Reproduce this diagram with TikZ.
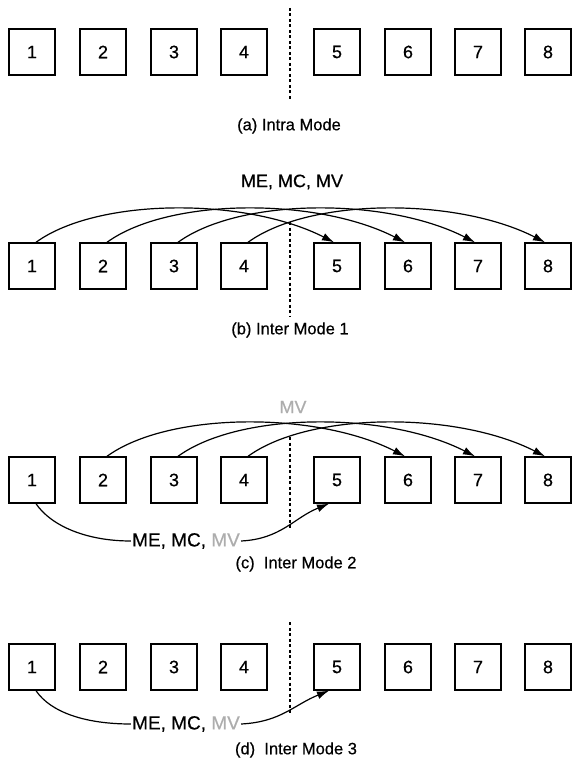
\documentclass[tikz,border=0pt]{standalone}
\usepackage{fontspec}
\setmainfont{Liberation Sans}
\newfontfamily\scanfont{Liberation Sans}[FakeBold=0.5]
\usetikzlibrary{arrows.meta}
\definecolor{mvgray}{gray}{0.68}
\begin{document}
\begin{tikzpicture}[x=1pt,y=-1pt,
  blk/.style={draw, line width=1.4pt, minimum width=46pt, minimum height=46pt, inner sep=0pt, font=\scanfont\fontsize{18}{21}\selectfont},
  captxt/.style={font=\scanfont\fontsize{16.5}{19}\selectfont, inner sep=1pt},
  lbl/.style={font=\scanfont\fontsize{18}{21}\selectfont, inner sep=1pt},
  sep/.style={line width=2.2pt, dash pattern=on 3pt off 2.5pt},
  lnk/.style={line width=1.2pt},
  arc/.style={line width=1.2pt, -{Latex[length=12pt,width=8pt]}}
]
\useasboundingbox (0,0) rectangle (572,762);
\foreach \r/\y in {a/52,b/266,c/480,d/667} {
  \foreach \i/\x in {1/32,2/103,3/174,4/244,5/337,6/408,7/478,8/548} {
    \node[blk] (\r\i) at (\x,\y) {\i};
  }
}
% separators
\coordinate (sa1) at (290,8);   \coordinate (sa2) at (290,100);
\coordinate (sb1) at (290,222); \coordinate (sb2) at (290,316);
\coordinate (sc1) at (290,437); \coordinate (sc2) at (290,530);
\coordinate (sd1) at (290,622); \coordinate (sd2) at (290,715);
\draw[sep] (sa1) -- (sa2);
\draw[sep] (sb1) -- (sb2);
\draw[sep] (sc1) -- (sc2);
\draw[sep] (sd1) -- (sd2);
% captions
\node[captxt] (ca) at (289,126) {(a) Intra Mode};
\node[captxt] (cb) at (290,330) {(b) Inter Mode 1};
\node[captxt] (cc) at (296,564) {(c)\ \ Inter Mode 2};
\node[captxt] (cd) at (296,750) {(d)\ \ Inter Mode 3};
% row b
\node[lbl] (mb) at (292,182) {ME, MC, MV};
\foreach \i/\j in {1/5,2/6,3/7,4/8}
  \draw[arc] ([xshift=4pt]b\i.north) .. controls +(62,-45) and +(-88,-45) .. ([xshift=-3pt]b\j.north);
% row c
\node[lbl, text=mvgray] (mvc) at (293,407) {MV};
\foreach \i/\j in {2/6,3/7,4/8}
  \draw[arc] ([xshift=4pt]c\i.north) .. controls +(62,-45) and +(-88,-45) .. ([xshift=-3pt]c\j.north);
\node[lbl, font=\scanfont\fontsize{19}{22}\selectfont] (lc) at (186,541) {ME, MC, \textcolor{mvgray}{MV}};
\draw[lnk] ([xshift=4pt]c1.south) .. controls +(15,22) and +(-45,0) .. (lc.west);
\draw[arc] (lc.east) .. controls +(40,-2) and +(-35,14) .. ([xshift=-8pt]c5.south);
% row d
\node[lbl, font=\scanfont\fontsize{19}{22}\selectfont] (ld) at (186,724) {ME, MC, \textcolor{mvgray}{MV}};
\draw[lnk] ([xshift=4pt]d1.south) .. controls +(15,22) and +(-45,0) .. (ld.west);
\draw[arc] (ld.east) .. controls +(40,-2) and +(-35,14) .. ([xshift=-8pt]d5.south);
\end{tikzpicture}
\end{document}
